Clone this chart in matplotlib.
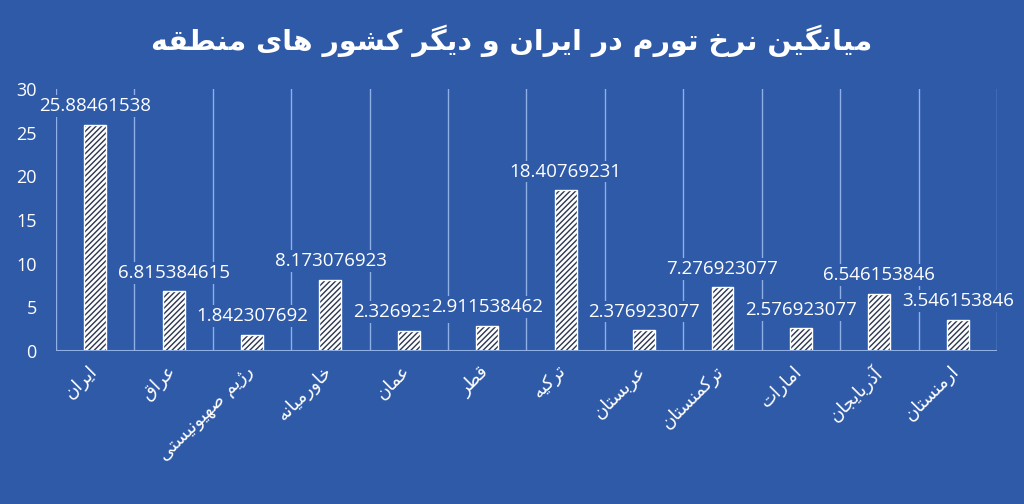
import numpy as np
import matplotlib
matplotlib.use('agg')
import matplotlib.pyplot as plt
import matplotlib.transforms as mtransforms

#chart data
title = "میانگین نرخ تورم در ایران و دیگر کشور های منطقه"
countries = ["ایران", "عراق", "رژیم صهیونیستی", "خاورمیانه", "عمان", "قطر",
             "ترکیه", "عربستان", "ترکمنستان", "امارات", "آذربایجان", "ارمنستان"]
values = [25.88461538, 6.815384615, 1.842307692, 8.173076923, 2.326923077, 2.911538462,
          18.40769231, 2.376923077, 7.276923077, 2.576923077, 6.546153846, 3.546153846]
value_labels = ["25.88461538", "6.815384615", "1.842307692", "8.173076923", "2.326923077", "2.911538462",
                "18.40769231", "2.376923077", "7.276923077", "2.576923077", "6.546153846", "3.546153846"]
y_ticks = [0, 5, 10, 15, 20, 25, 30]

BG = '#2f5aa8'
LINE = '#8fb0e6'

#presentation forms: isolated, final, initial, medial (None = right-joining only)
FORMS = {
	'ا': (0xFE8D, 0xFE8E, None, None), 'آ': (0xFE81, 0xFE82, None, None),
	'ب': (0xFE8F, 0xFE90, 0xFE91, 0xFE92), 'پ': (0xFB56, 0xFB57, 0xFB58, 0xFB59),
	'ت': (0xFE95, 0xFE96, 0xFE97, 0xFE98), 'ث': (0xFE99, 0xFE9A, 0xFE9B, 0xFE9C),
	'ج': (0xFE9D, 0xFE9E, 0xFE9F, 0xFEA0), 'چ': (0xFB7A, 0xFB7B, 0xFB7C, 0xFB7D),
	'ح': (0xFEA1, 0xFEA2, 0xFEA3, 0xFEA4), 'خ': (0xFEA5, 0xFEA6, 0xFEA7, 0xFEA8),
	'د': (0xFEA9, 0xFEAA, None, None), 'ذ': (0xFEAB, 0xFEAC, None, None),
	'ر': (0xFEAD, 0xFEAE, None, None), 'ز': (0xFEAF, 0xFEB0, None, None),
	'ژ': (0xFB8A, 0xFB8B, None, None),
	'س': (0xFEB1, 0xFEB2, 0xFEB3, 0xFEB4), 'ش': (0xFEB5, 0xFEB6, 0xFEB7, 0xFEB8),
	'ص': (0xFEB9, 0xFEBA, 0xFEBB, 0xFEBC), 'ض': (0xFEBD, 0xFEBE, 0xFEBF, 0xFEC0),
	'ط': (0xFEC1, 0xFEC2, 0xFEC3, 0xFEC4), 'ظ': (0xFEC5, 0xFEC6, 0xFEC7, 0xFEC8),
	'ع': (0xFEC9, 0xFECA, 0xFECB, 0xFECC), 'غ': (0xFECD, 0xFECE, 0xFECF, 0xFED0),
	'ف': (0xFED1, 0xFED2, 0xFED3, 0xFED4), 'ق': (0xFED5, 0xFED6, 0xFED7, 0xFED8),
	'ک': (0xFB8E, 0xFB8F, 0xFB90, 0xFB91), 'گ': (0xFB92, 0xFB93, 0xFB94, 0xFB95),
	'ل': (0xFEDD, 0xFEDE, 0xFEDF, 0xFEE0), 'م': (0xFEE1, 0xFEE2, 0xFEE3, 0xFEE4),
	'ن': (0xFEE5, 0xFEE6, 0xFEE7, 0xFEE8), 'و': (0xFEED, 0xFEEE, None, None),
	'ه': (0xFEE9, 0xFEEA, 0xFEEB, 0xFEEC), 'ی': (0xFBFC, 0xFBFD, 0xFBFE, 0xFBFF),
}

#join persian letters by hand and flip to visual order (matplotlib has no shaping)
def shape(text):
	out = []
	for i, ch in enumerate(text):
		if ch not in FORMS:
			out.append(ch)
			continue
		prev = text[i-1] if i > 0 else ''
		nxt = text[i+1] if i + 1 < len(text) else ''
		join_prev = prev in FORMS and FORMS[prev][2] is not None
		join_next = nxt in FORMS and FORMS[ch][2] is not None
		iso, fin, ini, med = FORMS[ch]
		if join_prev and join_next:
			code = med
		elif join_prev:
			code = fin
		elif join_next:
			code = ini
		else:
			code = iso
		out.append(chr(code))
	return ''.join(out)[::-1]

plt.rcParams['font.family'] = ['DejaVu Sans']

fig = plt.figure(figsize=(10.24, 5.04), dpi=100, facecolor=BG)
ax = fig.add_axes([0.0547, 0.3036, 0.9189, 0.5198], facecolor=BG)

x = np.arange(len(countries))
#hatched body, then white outline on top
ax.bar(x, values, width=0.28, color='white', edgecolor='#2a3550', hatch='//////', linewidth=0, zorder=3)
ax.bar(x, values, width=0.28, color='none', edgecolor='white', linewidth=1.0, zorder=4)

#category separators
for b in np.arange(-0.5, len(countries), 1.0):
	ax.axvline(b, color=LINE, lw=1.0, zorder=1)
ax.axhline(0, color=LINE, lw=1.5, zorder=5)

for xi, v, lab in zip(x, values, value_labels):
	ax.annotate(lab, (xi, v), xytext=(0, 7), textcoords='offset points', ha='center', va='bottom',
		color='white', fontsize=13.5, family=['Open Sans', 'DejaVu Sans'], zorder=6,
		bbox=dict(boxstyle='square,pad=0.1', facecolor=BG, edgecolor='none'))

ax.set_xlim(-0.5, len(countries) - 0.5)
ax.set_ylim(0, 30)
ax.set_yticks(y_ticks)
ax.set_yticklabels([str(t) for t in y_ticks], color='white', fontsize=13, family=['Open Sans', 'DejaVu Sans'])
ax.tick_params(axis='y', length=0, pad=14)
ax.set_xticks(x)
ax.set_xticklabels([shape(c) for c in countries], rotation=45, ha='right', va='top',
	rotation_mode='anchor', color='white', fontsize=13)
ax.tick_params(axis='x', length=0, pad=8)
#nudge rotated labels a little left so their ends sit under the bars
shift = mtransforms.ScaledTranslation(-8 / 100, 0, fig.dpi_scale_trans)
for t in ax.get_xticklabels():
	t.set_transform(t.get_transform() + shift)
for s in ax.spines.values():
	s.set_visible(False)

fig.text(0.5, 0.92, shape(title), ha='center', va='center', color='white', fontsize=20.5, fontweight='bold')

plt.savefig('out.png', dpi=100, facecolor=BG)
